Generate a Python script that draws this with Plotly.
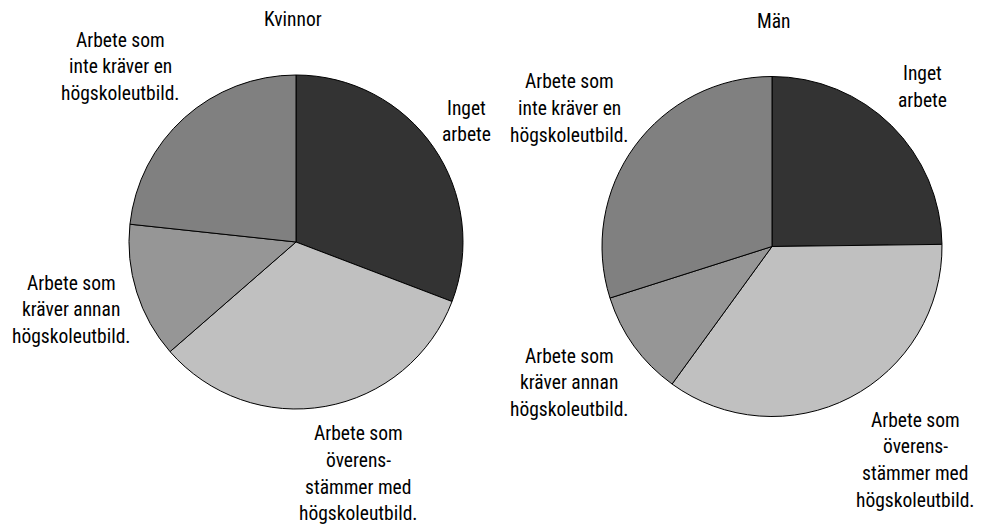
import plotly.graph_objects as go

categories = [
    "Inget arbete",
    "Arbete som överensstämmer med högskoleutbild.",
    "Arbete som kräver annan högskoleutbild.",
    "Arbete som inte kräver en högskoleutbild.",
]
label_lines = [
    ["Inget", "arbete"],
    ["Arbete som", "överens-", "stämmer med", "högskoleutbild."],
    ["Arbete som", "kräver annan", "högskoleutbild."],
    ["Arbete som", "inte kräver en", "högskoleutbild."],
]
kvinnor_values = [30.8, 32.8, 13.1, 23.3]
man_values = [24.8, 35.2, 10.1, 29.9]
slice_colors = ["#333333", "#c0c0c0", "#969696", "#808080"]
titles = ["Kvinnor", "Män"]

W, H = 984, 524
FONT = "Roboto Condensed, Liberation Sans, Arial, sans-serif"
LABEL_SIZE = 19.5
TITLE_SIZE = 19.5
LINE_STEP = 26.8

def px_x(x):
    return x / W

def px_y(y):
    return 1 - y / H

fig = go.Figure()

# pie geometry (pixel centers and radii)
pies = [
    dict(values=kvinnor_values, cx=296, cy=242, r=167),
    dict(values=man_values, cx=772, cy=246.5, r=170),
]
for p in pies:
    fig.add_trace(go.Pie(
        labels=categories,
        values=p["values"],
        sort=False,
        direction="clockwise",
        rotation=0,
        textinfo="none",
        hoverinfo="label+percent",
        marker=dict(colors=slice_colors, line=dict(color="#000000", width=1)),
        domain=dict(
            x=[px_x(p["cx"] - p["r"]), px_x(p["cx"] + p["r"])],
            y=[px_y(p["cy"] + p["r"]), px_y(p["cy"] - p["r"])],
        ),
        showlegend=False,
    ))

# label positions (pixel center x, first-line center y) per pie, in category order
label_pos = [
    [(466, 108), (358, 433.5), (71, 283), (120, 40)],
    [(922, 74), (915, 420), (569, 356), (569, 81.5)],
]
annotations = []
for pos in label_pos:
    for (x, y0), lines in zip(pos, label_lines):
        for j, line in enumerate(lines):
            annotations.append(dict(
                x=px_x(x), y=px_y(y0 + j * LINE_STEP), xref="paper", yref="paper",
                text=line, showarrow=False, xanchor="center", yanchor="middle",
                font=dict(family=FONT, size=LABEL_SIZE, color="#000000"),
            ))
for (x, y), t in zip([(293, 20), (774, 21.5)], titles):
    annotations.append(dict(
        x=px_x(x), y=px_y(y), xref="paper", yref="paper",
        text=t, showarrow=False, xanchor="center", yanchor="middle",
        font=dict(family=FONT, size=TITLE_SIZE, color="#000000"),
    ))

fig.update_layout(
    width=W, height=H,
    margin=dict(l=0, r=0, t=0, b=0),
    paper_bgcolor="#ffffff",
    plot_bgcolor="#ffffff",
    font=dict(family=FONT, size=LABEL_SIZE, color="#000000"),
    annotations=annotations,
)

fig.write_html("out.html", config={"displayModeBar": False},
               post_script="document.body.style.margin='0';")
